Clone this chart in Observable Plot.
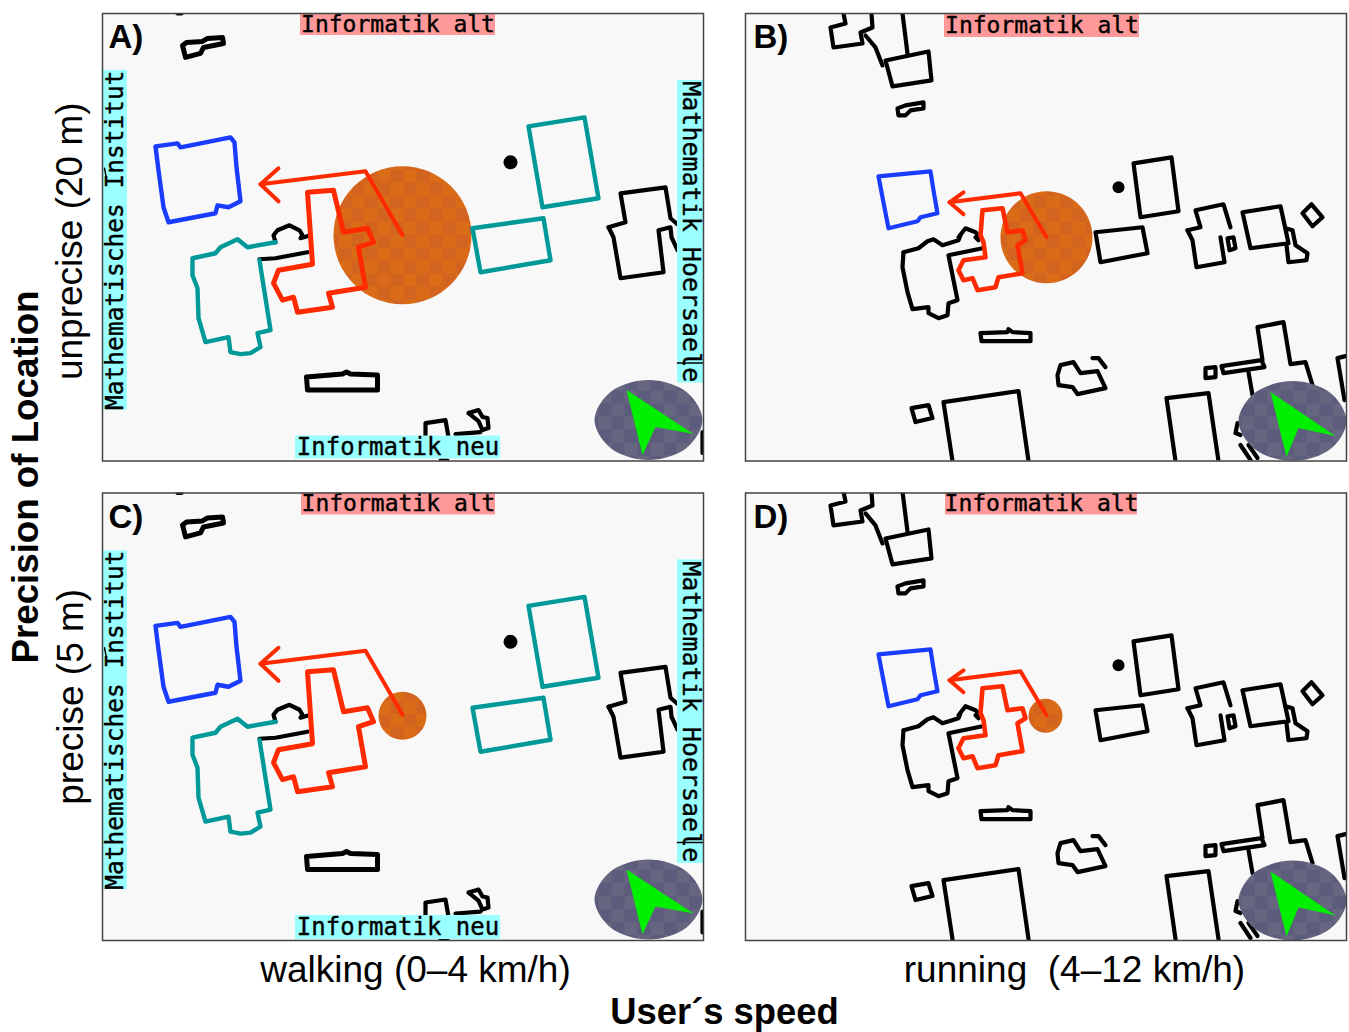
<!DOCTYPE html>
<html>
<head>
<meta charset="utf-8">
<style>html,body{margin:0;padding:0;background:#fff}svg{display:block}</style>
<script src="https://cdn.jsdelivr.net/npm/d3@7"></script>
<script src="https://cdn.jsdelivr.net/npm/@observablehq/plot@0.6"></script>
</head>
<body>
<div id="chart"></div>
<script>
const speeds = ["walking (0\u20134 km/h)", "running\u00a0\u00a0(4\u201312 km/h)"];
const precisions = ["unprecise (20 m)", "precise (5 m)"];
const panelLetters = [["A)", 0, 0, 6], ["B)", 1, 0, 8], ["C)", 0, 1, 6], ["D)", 1, 1, 8]];

// Column and row captions, placed relative to their panels [index, x, y]
const speedCaptions = [[0, 313, 478], [1, 329, 478]];
const precisionCaptions = [[0, -32, 228], [1, -31, 204]];

// Uncertainty circle [speed, precision, x, y, radius]
const uncertainty = [[0, 0, 300, 222, 69], [1, 0, 301, 224, 46], [0, 1, 300, 223, 24], [1, 1, 300, 223, 17]];
// Label boxes [speed, precision, text, x1, x2, y1, y2, background, size, rotation]
const labelBoxes = [
  [0, 0, "Informatik alt", 198, 393, 0, 22, "#ff9999", 23, 0],
  [0, 0, "Mathematisches Institut", 1, 25, 57, 397, "#99ffff", 24.5, -90],
  [0, 0, "Mathematik Hoersaele", 575, 601, 67, 370, "#99ffff", 25, 90],
  [0, 0, "Informatik neu", 193, 398, 423, 446, "#99ffff", 24, 0],
  [1, 0, "Informatik alt", 199, 394, 1, 24, "#ff9999", 23, 0],
  [0, 1, "Informatik alt", 199, 393, 0, 22, "#ff9999", 23, 0],
  [0, 1, "Mathematisches Institut", 1, 25, 58, 397, "#99ffff", 24.5, -90],
  [0, 1, "Mathematik Hoersaele", 575, 601, 67, 371, "#99ffff", 25, 90],
  [0, 1, "Informatik neu", 193, 398, 423, 447, "#99ffff", 24, 0],
  [1, 1, "Informatik alt", 200, 392, 0, 22, "#ff9999", 23, 0]
];

const compassOutline = [[54, 0], [38, 28], [0, 40], [-38, 28], [-54, 0], [-38, -28], [0, -40], [38, -28]];
const compassCentres = [[546, 407], [547, 408]];
const compassNeedles = [
  [[524, 377], [591, 421], [553, 414], [540, 442]],
  [[525, 379], [590, 423], [553, 415], [541, 444]]
];

// Walking map
const walkBlue = [[[53,133],[75,130],[78,134],[128,124],[132,129],[134,154],[138,188],[126,194],[115,192],[113,200],[66,209],[61,194],[56,157]]];
const walkTealClosed = [
  [[426,113],[482,104],[496,185],[440,194]],
  [[370,215],[441,205],[448,247],[378,259]]
];
const walkTealOpen = [
  [[173,229],[145,234],[135,226],[118,234],[113,240],[90,245],[90,262],[95,275],[96,305],[103,329],[126,324],[128,339],[138,341],[148,340],[158,334],[155,320],[168,317],[157,247]]
];
const walkBlackClosed = [
  [[80,32],[84,29],[100,28],[105,25],[120,24],[121,30],[101,34],[98,40],[83,44]],
  [[204,364],[240,361],[244,359],[248,361],[275,362],[275,377],[205,377]]
];
const walkBlackOpen = [
  [[173,229],[171,222],[175,217],[187,212],[197,217],[200,222],[198,225],[208,222]],
  [[157,246],[173,245],[205,239]],
  [[506,214],[523,209],[518,180],[563,174],[568,205],[576,212]],
  [[575,237],[569,224],[568,214],[556,217],[561,259],[518,265],[511,224],[506,214]],
  [[323,424],[323,410],[343,407],[346,424]],
  [[353,421],[378,419]],
  [[366,400],[376,397],[380,404],[385,405],[386,415],[380,417],[376,408],[366,400]],
  [[600,419],[600,440]],
  [[75,0],[79,0]],
  [[338,447.5],[345,447.5]]
];
const walkRed = [[[205,179],[231,177],[241,219],[265,215],[271,229],[256,234],[263,274],[226,280],[230,294],[195,299],[191,284],[180,287],[171,270],[176,257],[210,251],[208,222]]];
const walkArrow = [[[300,222],[263,158],[158,171]], [[176,155],[158,171],[176,188]]];
const walkOverLabels = [[[575,350],[600,350]], [[2,155],[4,165]]];

// Running map
const runBlue = [[[133,163],[185,158],[188,177],[192,200],[175,204],[172,208],[143,215],[137,184]]];
const runBlackClosed = [
  [[140,47],[183,38],[186,67],[147,73]],
  [[152,95],[160,92],[178,89],[178,95],[165,97],[160,102],[153,102]],
  [[235,320],[262,319],[263,316],[267,319],[285,320],[285,328],[236,328]],
  [[166,395],[183,392],[187,405],[170,409]],
  [[388,150],[426,144],[433,198],[395,204]],
  [[350,219],[397,214],[402,240],[355,249]],
  [[482,225],[488,224],[490,235],[484,237]],
  [[497,199],[535,193],[540,216],[543,230],[505,235]],
  [[566,191],[577,204],[567,213],[557,200]],
  [[315,352],[328,349],[335,360],[352,358],[360,375],[332,381],[327,374],[313,372],[312,362]],
  [[460,355],[470,354],[470,364],[460,365]],
  [[476,353],[516,347],[519,354],[478,360]]
];
const runBlackOpen = [
  [[98,0],[100,10],[85,14],[88,34],[117,30],[115,19],[127,14],[126,0]],
  [[120,22],[130,34],[137,52]],
  [[157,0],[162,40]],
  [[158,239],[173,235],[182,228],[188,226],[197,232],[213,227],[215,222],[213,224],[220,215],[230,219],[235,224]],
  [[230,224],[233,227]],
  [[237,235],[203,242],[212,287],[203,290],[202,302],[193,305],[183,300],[183,294],[167,296],[162,279],[157,254],[158,239]],
  [[207,448],[198,389],[273,378],[283,448]],
  [[442,217],[455,214],[450,197],[478,191],[485,214]],
  [[442,217],[447,227],[451,254],[479,249],[475,224]],
  [[540,215],[547,217],[550,232],[562,240],[561,247],[543,249],[541,232]],
  [[347,345],[353,345],[360,354]],
  [[517,347],[512,314],[538,309],[545,351],[560,349],[567,372]],
  [[503,359],[507,382]],
  [[430,448],[421,385],[463,380],[473,448]],
  [[600,343],[592,345],[599,387]],
  [[492,410],[490,420],[495,422]],
  [[495,432],[505,447]],
  [[503,432],[512,445]]
];
const runRed = [[[237,197],[257,195],[262,219],[277,217],[280,227],[272,232],[277,260],[253,264],[250,274],[232,277],[227,265],[218,267],[213,257],[218,247],[240,244],[238,229],[235,222]]];
const runArrow = [[[301,224],[275,180],[204,189]], [[218,179],[204,189],[218,201]]];
const blots = [[0, 408, 149, 7], [1, 373, 174, 6]];
// Panel D's map sits a little higher in its frame than panel B's
const panelDShift = -1.5;

// Table building
const rowsOf = (shapes, s, shift = 0) => precisions.flatMap((p, pi) => shapes.flatMap((pts, i) =>
  pts.map(([x, y]) => ({x, y: y + (pi === 1 ? shift : 0), z: i, fx: speeds[s], fy: p}))));
const outline = (shapes, s, stroke, strokeWidth, closed) =>
  Plot.line(rowsOf(shapes, s, s === 1 ? panelDShift : 0), {x: "x", y: "y", z: "z", fx: "fx", fy: "fy", stroke, strokeWidth,
    curve: closed ? "linear-closed" : "linear", strokeLinejoin: "round", strokeLinecap: "round", clip: "frame"});

const circles = uncertainty.map(([s, p, x, y, r]) => ({fx: speeds[s], fy: precisions[p], x, y, r}));
const blotRows = blots.flatMap(([s, x, y, r]) => precisions.map((p, pi) => ({fx: speeds[s], fy: p, x, y: y + (s === 1 && pi === 1 ? panelDShift : 0), r})));
const labels = labelBoxes.map(([s, p, text, x1, x2, y1, y2, bg, size, rot]) =>
  ({fx: speeds[s], fy: precisions[p], text, x1, x2, y1, y2, bg, size, rot, x: (x1 + x2) / 2, y: (y1 + y2) / 2}));
const letters = panelLetters.map(([text, s, p, x]) => ({text, fx: speeds[s], fy: precisions[p], x, y: 24}));
const compassRows = compassCentres.flatMap(([cx, cy], s) => rowsOf([compassOutline.map(([dx, dy]) => [cx + dx, cy + dy])], s));
const needleRows = compassNeedles.flatMap((n, s) => rowsOf([n], s));
const speedRows = speedCaptions.map(([i, x, y]) => ({text: speeds[i], fx: speeds[i], fy: precisions[1], x, y}));
const precisionRows = precisionCaptions.map(([i, x, y]) => ({text: precisions[i], fx: speeds[0], fy: precisions[i], x, y}));

const sans = "Liberation Sans, Helvetica, Arial, sans-serif";
const chart = Plot.plot({
  width: 1349, height: 1032,
  marginLeft: 102, marginRight: 3, marginTop: 13, marginBottom: 92,
  style: {background: "#fff", fontFamily: sans, overflow: "visible"},
  x: {domain: [0, 601], axis: null},
  y: {domain: [448, 0], axis: null},
  fx: {domain: speeds, paddingInner: 0.0653, paddingOuter: 0, round: false, axis: null},
  fy: {domain: precisions, paddingInner: 0.0667, paddingOuter: 0, round: false, axis: null},
  r: {type: "identity"},
  color: {type: "identity"},
  marks: [
    Plot.frame({fill: "#f8f8f8", stroke: "none"}),
    Plot.dot(circles, {x: "x", y: "y", r: "r", fx: "fx", fy: "fy", fill: "url(#orangeCheck)", stroke: "none"}),
    outline(walkBlackClosed, 0, "#000", 5, true),
    outline(walkBlackOpen, 0, "#000", 4.2, false),
    outline(walkBlue, 0, "#1a3cff", 4.4, true),
    outline(walkTealClosed, 0, "#009999", 4.4, true),
    outline(walkTealOpen, 0, "#009999", 4.4, false),
    outline(walkRed, 0, "#ff2a00", 5, true),
    outline(walkArrow, 0, "#ff2a00", 4, false),
    outline(runBlackClosed, 1, "#000", 4.2, true),
    outline(runBlackOpen, 1, "#000", 4.2, false),
    outline(runBlue, 1, "#1a3cff", 4.2, true),
    outline(runRed, 1, "#ff2a00", 4.6, true),
    outline(runArrow, 1, "#ff2a00", 4, false),
    Plot.dot(blotRows, {x: "x", y: "y", r: "r", fx: "fx", fy: "fy", fill: "#000", stroke: "none"}),
    Plot.line(compassRows, {x: "x", y: "y", z: "z", fx: "fx", fy: "fy", fill: "url(#greyCheck)", stroke: "none", curve: "catmull-rom-closed", clip: "frame"}),
    Plot.line(needleRows, {x: "x", y: "y", z: "z", fx: "fx", fy: "fy", fill: "#00f000", stroke: "none", curve: "linear-closed"}),
    Plot.rect(labels, {x1: "x1", x2: "x2", y1: "y1", y2: "y2", fx: "fx", fy: "fy", fill: "bg"}),
    Plot.text(labels, {x: "x", y: "y", fx: "fx", fy: "fy", text: "text", fontSize: "size", rotate: "rot", fontFamily: "DejaVu Sans Mono", fill: "#000", stroke: "#000", strokeWidth: 0.4, lineAnchor: "middle"}),
    outline(walkOverLabels, 0, "#000", 1.5, false),
    Plot.text(letters, {x: "x", y: "y", fx: "fx", fy: "fy", text: "text", fontSize: 33, fontWeight: "bold", textAnchor: "start", lineAnchor: "middle", fill: "#000"}),
    Plot.frame({stroke: "#444", strokeWidth: 1.5}),
    Plot.text(speedRows, {x: "x", y: "y", fx: "fx", fy: "fy", text: "text", fontSize: 37, fill: "#000", lineAnchor: "middle"}),
    Plot.text(precisionRows, {x: "x", y: "y", fx: "fx", fy: "fy", text: "text", fontSize: 37, rotate: -90, fill: "#000", lineAnchor: "middle"}),
    Plot.text(["User\u00b4s speed"], {facet: "super", frameAnchor: "bottom", dy: 72, text: d => d, fontSize: 36.4, fontWeight: "bold", fill: "#000", lineAnchor: "middle"}),
    Plot.text(["Precision of Location"], {facet: "super", frameAnchor: "left", textAnchor: "middle", dx: -76, rotate: -90, text: d => d, fontSize: 36.7, fontWeight: "bold", fill: "#000", lineAnchor: "middle"})
  ]
});

// Dither texture of the translucent overlays
const svgSel = d3.select(chart.tagName.toLowerCase() === "svg" ? chart : chart.querySelector("svg"));
const defs = svgSel.insert("defs", ":first-child");
[["orangeCheck", "#d2641f", "#da6c18"], ["greyCheck", "#5c5c7c", "#666680"]].forEach(([id, a, b]) => {
  const pat = defs.append("pattern").attr("id", id).attr("patternUnits", "userSpaceOnUse").attr("width", 26).attr("height", 26);
  pat.append("rect").attr("width", 26).attr("height", 26).attr("fill", a);
  pat.append("rect").attr("x", 0).attr("y", 0).attr("width", 13).attr("height", 13).attr("fill", b);
  pat.append("rect").attr("x", 13).attr("y", 13).attr("width", 13).attr("height", 13).attr("fill", b);
});
document.getElementById("chart").append(chart);
</script>
</body>
</html>
